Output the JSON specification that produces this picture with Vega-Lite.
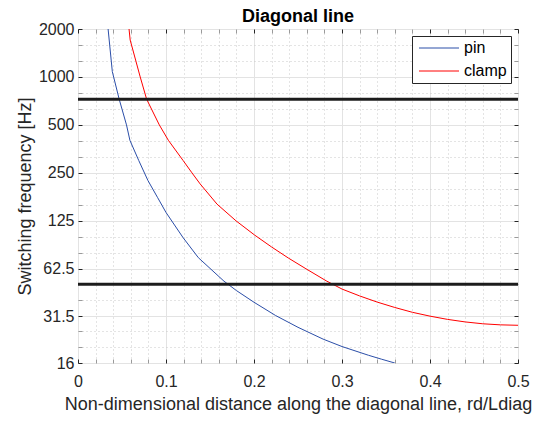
{
  "$schema": "https://vega.github.io/schema/vega-lite/v6.json",
  "width": 440,
  "height": 334,
  "autosize": {"type": "none"},
  "padding": {"left": 78, "top": 29, "right": 15, "bottom": 58},
  "background": "white",
  "title": {"text": "Diagonal line", "fontSize": 18, "fontWeight": "bold", "font": "Liberation Sans", "color": "#000000", "offset": -5, "anchor": "middle"},
  "datasets": {
    "curves": [
      {"series": "pin", "x": 0.0342, "freq": 2000},
      {"series": "pin", "x": 0.039, "freq": 1080},
      {"series": "pin", "x": 0.0468, "freq": 725},
      {"series": "pin", "x": 0.0551, "freq": 500},
      {"series": "pin", "x": 0.059, "freq": 400},
      {"series": "pin", "x": 0.069, "freq": 299},
      {"series": "pin", "x": 0.0795, "freq": 223.6},
      {"series": "pin", "x": 0.0903, "freq": 175.5},
      {"series": "pin", "x": 0.1, "freq": 141},
      {"series": "pin", "x": 0.1194, "freq": 98},
      {"series": "pin", "x": 0.1368, "freq": 73.3},
      {"series": "pin", "x": 0.1659, "freq": 52.2},
      {"series": "pin", "x": 0.18, "freq": 45.6},
      {"series": "pin", "x": 0.2, "freq": 38.5},
      {"series": "pin", "x": 0.2245, "freq": 31.8},
      {"series": "pin", "x": 0.25, "freq": 26.8},
      {"series": "pin", "x": 0.2785, "freq": 22.6},
      {"series": "pin", "x": 0.3, "freq": 20.3},
      {"series": "pin", "x": 0.33, "freq": 17.9},
      {"series": "pin", "x": 0.345, "freq": 16.9},
      {"series": "pin", "x": 0.36, "freq": 16.0},
      {"series": "clamp", "x": 0.058, "freq": 2000},
      {"series": "clamp", "x": 0.0593, "freq": 1705},
      {"series": "clamp", "x": 0.0707, "freq": 1000},
      {"series": "clamp", "x": 0.078, "freq": 725},
      {"series": "clamp", "x": 0.0924, "freq": 500},
      {"series": "clamp", "x": 0.1027, "freq": 400},
      {"series": "clamp", "x": 0.1194, "freq": 299},
      {"series": "clamp", "x": 0.1295, "freq": 250},
      {"series": "clamp", "x": 0.1388, "freq": 213},
      {"series": "clamp", "x": 0.158, "freq": 159},
      {"series": "clamp", "x": 0.1795, "freq": 125},
      {"series": "clamp", "x": 0.2008, "freq": 101.6},
      {"series": "clamp", "x": 0.22, "freq": 85.6},
      {"series": "clamp", "x": 0.2395, "freq": 72.7},
      {"series": "clamp", "x": 0.259, "freq": 62.5},
      {"series": "clamp", "x": 0.282, "freq": 52.5},
      {"series": "clamp", "x": 0.3, "freq": 46.6},
      {"series": "clamp", "x": 0.32, "freq": 42.2},
      {"series": "clamp", "x": 0.34, "freq": 38.6},
      {"series": "clamp", "x": 0.36, "freq": 35.7},
      {"series": "clamp", "x": 0.38, "freq": 33.3},
      {"series": "clamp", "x": 0.4, "freq": 31.5},
      {"series": "clamp", "x": 0.42, "freq": 30.05},
      {"series": "clamp", "x": 0.44, "freq": 28.97},
      {"series": "clamp", "x": 0.46, "freq": 28.2},
      {"series": "clamp", "x": 0.48, "freq": 27.77},
      {"series": "clamp", "x": 0.5, "freq": 27.6}
    ],
    "hlines": [
      {"freq": 725},
      {"freq": 50}
    ]
  },
  "layer": [
    {
      "data": {"name": "curves"},
      "mark": {"type": "line", "strokeWidth": 1, "clip": true},
      "encoding": {
        "x": {
          "field": "x", "type": "quantitative",
          "scale": {"domain": [0, 0.5], "nice": false, "zero": false},
          "axis": {
            "orient": "bottom",
            "values": [0, 0.02, 0.04, 0.06, 0.08, 0.1, 0.12, 0.14, 0.16, 0.18, 0.2, 0.22, 0.24, 0.26, 0.28, 0.3, 0.32, 0.34, 0.36, 0.38, 0.4, 0.42, 0.44, 0.46, 0.48, 0.5],
            "format": ".2~f",
            "labelExpr": "indexof([0,0.1,0.2,0.3,0.4,0.5], datum.value) >= 0 ? datum.label : ''",
            "labelFlush": false,
            "labelOverlap": false,
            "labelBound": false,
            "grid": true,
            "gridColor": {"condition": {"test": "indexof([0,0.1,0.2,0.3,0.4,0.5], datum.value) < 0", "value": "#c8c8c8"}, "value": "#e3e3e3"},
            "gridDash": {"condition": {"test": "indexof([0,0.1,0.2,0.3,0.4,0.5], datum.value) < 0", "value": [1, 3]}, "value": []},
            "tickSize": -4,
            "tickColor": {"condition": {"test": "indexof([0,0.1,0.2,0.3,0.4,0.5], datum.value) < 0", "value": "#9a9a9a"}, "value": "#262626"},
            "labelPadding": 14,
            "title": "Non-dimensional distance along the diagonal line, rd/Ldiag",
            "titlePadding": 6
          }
        },
        "y": {
          "field": "freq", "type": "quantitative",
          "scale": {"type": "log", "domain": [16, 2000], "nice": false},
          "axis": {
            "orient": "left",
            "values": [16, 20.16, 25.4, 31.5, 39.7, 50, 62.5, 78.7, 99.2, 125, 157.5, 198.4, 250, 315, 397, 500, 630, 794, 1000, 1260, 1587, 2000],
            "format": "~g",
            "labelExpr": "indexof([16,31.5,62.5,125,250,500,1000,2000], datum.value) >= 0 ? datum.label : ''",
            "labelOverlap": false,
            "labelBound": false,
            "labelFlush": false,
            "grid": true,
            "gridColor": {"condition": {"test": "indexof([16,31.5,62.5,125,250,500,1000,2000], datum.value) < 0", "value": "#c8c8c8"}, "value": "#e3e3e3"},
            "gridDash": {"condition": {"test": "indexof([16,31.5,62.5,125,250,500,1000,2000], datum.value) < 0", "value": [1, 3]}, "value": []},
            "tickSize": -4,
            "tickColor": {"condition": {"test": "indexof([16,31.5,62.5,125,250,500,1000,2000], datum.value) < 0", "value": "#9a9a9a"}, "value": "#262626"},
            "labelPadding": 8,
            "title": "Switching frequency [Hz]",
            "titlePadding": 4
          }
        },
        "color": {
          "field": "series", "type": "nominal",
          "scale": {"domain": ["pin", "clamp"], "range": ["#2b4ea8", "#ff0000"]},
          "legend": {
            "title": null,
            "orient": "top-right",
            "offset": 7,
            "padding": 4,
            "fillColor": "white",
            "strokeColor": "#262626",
            "symbolType": "M-1,0H7",
            "symbolSize": 100,
            "symbolStrokeWidth": 1,
            "labelFont": "Liberation Sans",
            "labelFontSize": 16,
            "labelColor": "#000000",
            "labelOffset": 32,
            "rowPadding": 7
          }
        }
      }
    },
    {
      "data": {"name": "hlines"},
      "mark": {"type": "rule", "strokeWidth": 3, "color": "#1c1c1c"},
      "encoding": {
        "y": {"field": "freq", "type": "quantitative", "scale": {"type": "log", "domain": [16, 2000], "nice": false}, "axis": null}
      }
    },
    {
      "data": {"name": "curves"},
      "mark": {"type": "point", "opacity": 0},
      "encoding": {
        "x": {
          "field": "x", "type": "quantitative",
          "scale": {"domain": [0, 0.5], "nice": false, "zero": false},
          "axis": {
            "orient": "top",
            "values": [0, 0.02, 0.04, 0.06, 0.08, 0.1, 0.12, 0.14, 0.16, 0.18, 0.2, 0.22, 0.24, 0.26, 0.28, 0.3, 0.32, 0.34, 0.36, 0.38, 0.4, 0.42, 0.44, 0.46, 0.48, 0.5],
            "labels": false,
            "grid": false,
            "title": null,
            "tickSize": -4,
            "tickColor": {"condition": {"test": "indexof([0,0.1,0.2,0.3,0.4,0.5], datum.value) < 0", "value": "#9a9a9a"}, "value": "#262626"}
          }
        },
        "y": {
          "field": "freq", "type": "quantitative",
          "scale": {"type": "log", "domain": [16, 2000], "nice": false},
          "axis": {
            "orient": "right",
            "values": [16, 20.16, 25.4, 31.5, 39.7, 50, 62.5, 78.7, 99.2, 125, 157.5, 198.4, 250, 315, 397, 500, 630, 794, 1000, 1260, 1587, 2000],
            "labels": false,
            "grid": false,
            "title": null,
            "tickSize": -4,
            "tickColor": {"condition": {"test": "indexof([16,31.5,62.5,125,250,500,1000,2000], datum.value) < 0", "value": "#9a9a9a"}, "value": "#262626"}
          }
        }
      }
    }
  ],
  "resolve": {"axis": {"x": "independent", "y": "independent"}},
  "config": {
    "font": "Liberation Sans",
    "view": {"stroke": "#262626", "strokeWidth": 1},
    "axis": {
      "domain": false,
      "labelFont": "Liberation Sans",
      "labelFontSize": 16,
      "labelColor": "#262626",
      "titleFont": "Liberation Sans",
      "titleFontSize": 18,
      "titleFontWeight": "normal",
      "titleColor": "#262626",
      "tickWidth": 1
    }
  }
}
